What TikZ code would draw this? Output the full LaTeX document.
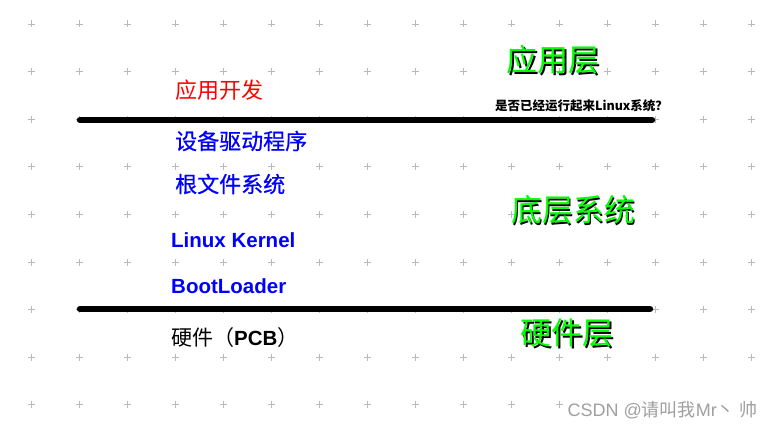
\documentclass[tikz,border=0pt]{standalone}
\usepackage{fontspec}
\setmainfont{Liberation Sans}
\newfontfamily\cjk{Noto Sans CJK SC}
\newfontfamily\cjkmed[FakeBold=0.7]{Noto Sans CJK SC}
\definecolor{puregreen}{RGB}{0,255,0}
\definecolor{pureblue}{RGB}{0,0,255}
\definecolor{purered}{RGB}{255,0,0}
\definecolor{gridgray}{RGB}{185,185,185}
\definecolor{wmgray}{RGB}{160,160,160}
\tikzset{
  gridplus/.style={draw=gridgray, line width=0.8pt},
  sepline/.style={draw=black, line width=6.5pt, line cap=round},
  lefttext/.style={anchor=west, inner sep=0pt},
  bigtext/.style={inner sep=0pt, font=\cjk\fontsize{31pt}{36pt}\selectfont},
  bigshadow/.style={bigtext, text=black},
  biglabel/.style={bigtext, text=puregreen},
}
\begin{document}
\begin{tikzpicture}[x=1pt,y=-1pt]
\useasboundingbox (0,0) rectangle (772,428);
% grid of plus marks
\foreach \i in {0,...,15}{
  \foreach \j in {0,...,8}{
    \draw[gridplus] ({31+48*\i-3.5},{24+47.6*\j}) -- ++(7,0)
                    ({31+48*\i},{24+47.6*\j-3.5}) -- ++(0,7);
  }
}
% separator lines
\coordinate (l1a) at (80,120);
\coordinate (l1b) at (652,120);
\coordinate (l2a) at (80,309);
\coordinate (l2b) at (650,309);
\draw[sepline] (l1a) -- (l1b);
\draw[sepline] (l2a) -- (l2b);
% left texts
\node[lefttext, text=purered, font=\cjk\fontsize{22pt}{26pt}\selectfont] (app) at (175,90) {应用开发};
\node[lefttext, text=pureblue, font=\cjkmed\fontsize{22pt}{26pt}\selectfont] (drv) at (175,141) {设备驱动程序};
\node[lefttext, text=pureblue, font=\cjkmed\fontsize{22pt}{26pt}\selectfont] (rootfs) at (175,184) {根文件系统};
\node[lefttext, text=pureblue, font=\bfseries\fontsize{20.5pt}{24pt}\selectfont] (kern) at (171,240) {Linux Kernel};
\node[lefttext, text=pureblue, font=\bfseries\fontsize{20.5pt}{24pt}\selectfont] (boot) at (171,286) {BootLoader};
\node[lefttext, text=black, font=\fontsize{20.5pt}{24pt}\selectfont] (hw) at (171,338) {{\cjk\fontsize{21pt}{24pt}\selectfont 硬件（}\textbf{PCB}{\cjk\fontsize{21pt}{24pt}\selectfont ）}};
% question
\node[inner sep=0pt, font=\cjk\bfseries\fontsize{12.5pt}{14pt}\selectfont] (q) at (581.5,106) {是否已经运行起来Linux系统？};
% big green labels with shadow
\node[bigshadow] (s1) at (554.5,61.5) {应用层};
\node[biglabel] (t1) at (553,60) {应用层};
\node[bigshadow] (s2) at (574.5,211.5) {底层系统};
\node[biglabel] (t2) at (573,210) {底层系统};
\node[bigshadow] (s3) at (568.5,334.5) {硬件层};
\node[biglabel] (t3) at (567,333) {硬件层};
% watermark
\node[anchor=east, fill=white, inner sep=1pt, text=wmgray, font=\fontsize{18pt}{21pt}\selectfont] (wm) at (759,410) {CSDN @{\cjk 请叫我}Mr{\cjk 丶} {\cjk 帅}};
\end{tikzpicture}
\end{document}
